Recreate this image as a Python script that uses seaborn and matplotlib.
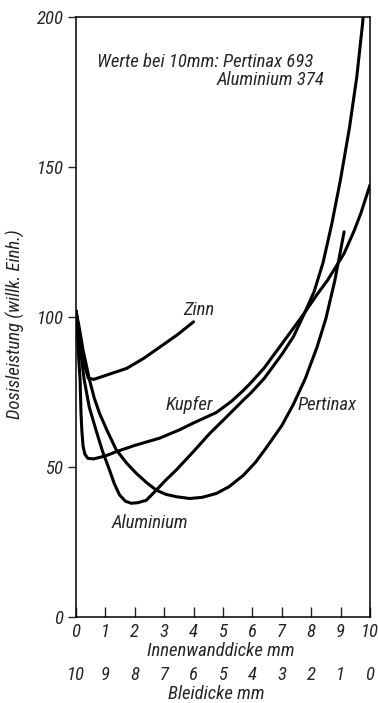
import numpy as np
import pandas as pd
import matplotlib
matplotlib.use("Agg")
import matplotlib.pyplot as plt
from matplotlib import font_manager as fm
import seaborn as sns

# ---- data ----
zinn_x = [0, 0.1, 0.19, 0.31, 0.42, 0.6, 1.0, 1.73, 2.3, 2.87, 3.45, 4.0]
zinn_y = [102, 95.5, 90, 83.4, 79.6, 79.2, 80.5, 82.9, 86.2, 90.1, 94.1, 98.4]

kupfer_x = [0, 0.05, 0.1, 0.14, 0.17, 0.2, 0.24, 0.3, 0.4, 0.6, 1.0, 1.37, 2.0, 2.84,
            3.5, 3.98, 4.78, 5.3, 5.69, 5.94, 6.4, 6.85, 7.3, 7.76, 8.2, 8.56, 9.12,
            9.45, 9.69, 10]
kupfer_y = [102, 94, 85, 79, 68, 62, 57, 54.3, 52.9, 52.7, 53.7, 55.1, 57.2, 59.6,
            62.3, 64.6, 68.2, 72, 75.5, 78, 83, 89, 95, 101.2, 107.5, 112.3, 121.2,
            128.5, 134.6, 144]

alu_x = [0, 0.1, 0.2, 0.28, 0.45, 0.68, 0.9, 1.14, 1.3, 1.48, 1.68, 1.88, 2.1, 2.39,
         2.73, 3.05, 3.41, 4.0, 4.55, 5.1, 5.69, 5.94, 6.4, 7.0, 7.4, 7.76, 8.1, 8.4,
         8.7, 9.0, 9.3, 9.55, 9.75, 9.85]
alu_y = [102, 94, 85, 79, 70, 62.3, 55.3, 49, 44.5, 40.7, 38.6, 37.9, 38.1, 38.9,
         42.3, 45.6, 49, 55.2, 61.2, 66.5, 72.3, 74.6, 79.5, 87.5, 93.5, 101, 108.5, 118,
         131, 146, 163, 180, 198, 212]

pert_x = [0, 0.1, 0.25, 0.46, 0.62, 0.8, 1.05, 1.37, 1.73, 2.05, 2.4, 2.73, 3.05, 3.41,
          3.87, 4.3, 4.78, 5.2, 5.69, 6.1, 6.5, 7.0, 7.4, 7.8, 8.2, 8.5, 8.8, 9.12]
pert_y = [102, 97, 88.5, 79, 73, 67.9, 62.3, 55.7, 51.2, 47.9, 44.8, 42.3, 40.9, 40.1,
          39.5, 39.9, 41.2, 43.4, 47.2, 51.5, 56.8, 63.8, 71, 79.5, 90, 99.5, 112, 128.4]

series_names = ["Zinn", "Kupfer", "Aluminium", "Pertinax"]
x_ticks = list(range(11))
x_ticklabels = [str(v) for v in x_ticks]
blei_ticks = list(range(11))
blei_ticklabels = [str(v) for v in blei_ticks]
y_ticks = [0, 50, 100, 150, 200]

frames = []
for name, xs, ys in zip(series_names, [zinn_x, kupfer_x, alu_x, pert_x],
                        [zinn_y, kupfer_y, alu_y, pert_y]):
    frames.append(pd.DataFrame({"x": xs, "y": ys, "Werkstoff": name}))
df = pd.concat(frames, ignore_index=True)

# ---- style ----
sns.set_style("ticks")

# pick a narrow font if one is installed
names = {f.name for f in fm.fontManager.ttflist}
narrow = None
for cand in ["Liberation Sans Narrow", "Roboto Condensed", "Open Sans Condensed",
             "DejaVu Sans Condensed", "Noto Sans Condensed"]:
    if cand in names:
        narrow = cand
        break
FONT = [narrow, "DejaVu Sans"] if narrow else ["DejaVu Sans"]
plt.rcParams["font.family"] = FONT
plt.rcParams["font.style"] = "italic"
plt.rcParams["font.stretch"] = "condensed"

FS = 13.5      # annotation / curve labels
FT = 13.5      # tick labels
FL = 13.5      # axis labels
W, H = 378, 703
fig = plt.figure(figsize=(W / 100, H / 100), dpi=100)
ax = fig.add_axes([76 / W, 1 - 617 / H, (370 - 76) / W, (617 - 17) / H])

sns.lineplot(data=df, x="x", y="y", hue="Werkstoff", units="Werkstoff",
             estimator=None, sort=False, palette=["black"] * 4,
             linewidth=2.2, legend=False, ax=ax)

ax.set_xlim(0, 10)
ax.set_ylim(0, 200)
for s in ax.spines.values():
    s.set_linewidth(1.1)
    s.set_color("black")

ax.set_xticks(x_ticks)
ax.set_xticklabels(x_ticklabels, fontsize=FT)
ax.set_yticks(y_ticks)
ax.set_yticklabels([str(v) for v in y_ticks], fontsize=FT)
ax.tick_params(axis="x", direction="in", length=7, width=1.0, pad=4)
ax.tick_params(axis="y", direction="out", length=6, width=1.0, pad=3)
ax.set_xlabel("")
ax.set_ylabel("")

sec = ax.secondary_xaxis(-0.077, functions=(lambda v: 10 - v, lambda v: 10 - v))
sec.set_xticks(blei_ticks)
sec.set_xticklabels(blei_ticklabels, fontsize=FT)
sec.tick_params(axis="x", length=0, pad=2)
sec.spines["bottom"].set_visible(False)

# axis titles placed as figure text
fig.text(221 / W, 1 - 651 / H, "Innenwanddicke mm", fontsize=FL, ha="center", va="center")
fig.text(216 / W, 1 - 694 / H, "Bleidicke mm", fontsize=FL, ha="center", va="center")
fig.text(15 / W, 1 - 324 / H, "Dosisleistung (willk. Einh.)", fontsize=FL,
         rotation=90, ha="center", va="center")

# annotations
ax.text(0.72, 185, "Werte bei 10mm: Pertinax 693", fontsize=FS, ha="left", va="center")
ax.text(4.79, 179, "Aluminium 374", fontsize=FS, ha="left", va="center")

ax.text(3.65, 102.3, "Zinn", fontsize=FS, ha="left", va="center")
ax.text(3.04, 70.7, "Kupfer", fontsize=FS, ha="left", va="center")
ax.text(7.55, 70.7, "Pertinax", fontsize=FS, ha="left", va="center")
ax.text(1.22, 31.4, "Aluminium", fontsize=FS, ha="left", va="center")

fig.savefig("out.png", dpi=100)
